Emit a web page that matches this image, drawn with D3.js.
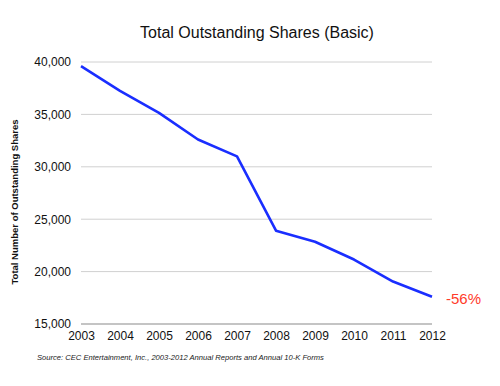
<!DOCTYPE html>
<html>
<head>
<meta charset="utf-8">
<script src="https://cdn.jsdelivr.net/npm/d3@7"></script>
<style>
  body { margin: 0; background: #fff; }
  text { font-family: "Liberation Sans", Arial, Helvetica, sans-serif; }
</style>
</head>
<body>
<svg id="chart" width="500" height="386"></svg>
<script>
const years = [2003, 2004, 2005, 2006, 2007, 2008, 2009, 2010, 2011, 2012];
const shares = [39600, 37250, 35150, 32600, 31000, 23900, 22850, 21150, 19050, 17600];
const yTicks = [15000, 20000, 25000, 30000, 35000, 40000];
const changeLabel = '-56%';

const svg = d3.select('#chart');
const margin = {top: 62, left: 81, right: 68, bottom: 62};
const width = 500, height = 386;

const data = years.map((y, i) => ({year: y, value: shares[i]}));

const x = d3.scalePoint()
    .domain(years)
    .range([margin.left, width - margin.right]);

const y = d3.scaleLinear()
    .domain([15000, 40000])
    .range([height - margin.bottom, margin.top]);

// gridlines
svg.append('g')
  .selectAll('line')
  .data(yTicks.slice(1))
  .enter().append('line')
    .attr('x1', margin.left)
    .attr('x2', width - margin.right)
    .attr('y1', d => y(d))
    .attr('y2', d => y(d))
    .attr('stroke', '#d0d0d0')
    .attr('stroke-width', 1);

// base line
svg.append('line')
  .attr('x1', margin.left)
  .attr('x2', width - margin.right)
  .attr('y1', y(15000))
  .attr('y2', y(15000))
  .attr('stroke', '#8a8a8a')
  .attr('stroke-width', 1.2);

const yAxis = d3.axisLeft(y)
    .tickValues(yTicks)
    .tickFormat(d3.format(','))
    .tickSize(0)
    .tickPadding(10);

const yAxisG = svg.append('g')
    .attr('transform', `translate(${margin.left}, 0)`)
    .call(yAxis);
yAxisG.select('.domain').remove();
yAxisG.selectAll('text')
    .attr('font-size', '12px')
    .attr('fill', '#111')
    .style('font-family', '"Liberation Sans", Arial, sans-serif');

const xAxis = d3.axisBottom(x)
    .tickSize(0)
    .tickPadding(7);

const xAxisG = svg.append('g')
    .attr('transform', `translate(0, ${y(15000)})`)
    .call(xAxis);
xAxisG.select('.domain').remove();
xAxisG.selectAll('text')
    .attr('font-size', '12px')
    .attr('fill', '#111')
    .style('font-family', '"Liberation Sans", Arial, sans-serif');

// line
const line = d3.line()
    .x(d => x(d.year))
    .y(d => y(d.value));

svg.append('path')
  .datum(data)
  .attr('d', line)
  .attr('fill', 'none')
  .attr('stroke', '#1a2eff')
  .attr('stroke-width', 2.6)
  .attr('stroke-linejoin', 'round');

// title
svg.append('text')
  .attr('x', 257)
  .attr('y', 38)
  .attr('text-anchor', 'middle')
  .attr('font-size', '16px')
  .attr('fill', '#111')
  .text('Total Outstanding Shares (Basic)');

// y axis title
svg.append('text')
  .attr('transform', 'translate(18, 202) rotate(-90)')
  .attr('text-anchor', 'middle')
  .attr('font-size', '9.5px')
  .attr('font-weight', 'bold')
  .attr('fill', '#111')
  .text('Total Number of Outstanding Shares');

// change label
const last = data[data.length - 1];
svg.append('text')
  .attr('x', x(last.year) + 14)
  .attr('y', y(last.value) + 7)
  .attr('font-size', '15px')
  .attr('fill', '#ff3b2a')
  .text(changeLabel);

// source
svg.append('text')
  .attr('x', 37)
  .attr('y', 360)
  .attr('font-size', '7.6px')
  .attr('font-style', 'italic')
  .attr('fill', '#222')
  .text('Source: CEC Entertainment, Inc., 2003-2012 Annual Reports and Annual 10-K Forms');
</script>
</body>
</html>
